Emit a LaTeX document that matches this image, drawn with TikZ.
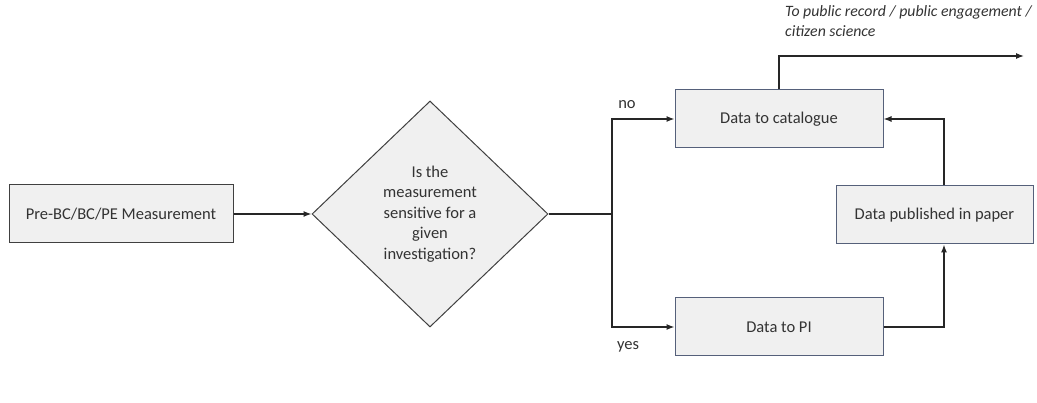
\documentclass[tikz,border=0pt]{standalone}
\usepackage{fontspec}
\setmainfont{Carlito}
\usetikzlibrary{shapes.geometric,arrows.meta}
\definecolor{boxfill}{HTML}{F0F0F0}
\definecolor{boxedge}{HTML}{55607A}
\definecolor{txt}{HTML}{333333}
\begin{document}
\begin{tikzpicture}[x=1pt,y=-1pt,text=txt,
	box/.style={draw=boxedge,line width=1pt,fill=boxfill,minimum width=208pt,minimum height=58pt,inner sep=0pt},
	flow/.style={-{Latex[length=8pt,width=6pt]},line width=1.3pt,draw=black!85}]
	\fontsize{16.5}{20.5}\selectfont
	\useasboundingbox (0,0) rectangle (1037,403);
	\node[box,draw=black!75,minimum width=224pt] (meas) at (121,214) {Pre-BC/BC/PE Measurement};
	\node[diamond,draw=black!75,line width=1pt,fill=boxfill,minimum width=236pt,minimum height=226pt,inner sep=0pt,align=center] (sens) at (430,214) {Is the\\measurement\\sensitive for a\\given\\investigation?};
	\node[box] (cat) at (779,119) {Data to catalogue};
	\node[box] (pi) at (779,327) {Data to PI};
	\node[box,minimum width=197pt] (pub) at (934.5,215) {Data published in paper};
	\node (no) at (627,105) {no};
	\node (yes) at (628,347) {yes};
	\node[font=\fontsize{15.8}{20}\itshape,anchor=north west,align=left,inner sep=0pt] (outlabel) at (785,5) {To public record / public engagement /\\citizen science};
	\coordinate (split) at (612,214);
	\coordinate (out) at (1024,56);
	\draw[flow] (meas) -- (sens);
	\draw[line width=1.3pt,draw=black!85] (sens.east) -- (split);
	\draw[flow] (split) |- (cat.west);
	\draw[flow] (split) |- (pi.west);
	\draw[flow] (pi.east) -| ([xshift=9.5pt]pub.south);
	\draw[flow] ([xshift=9.5pt]pub.north) |- (cat.east);
	\draw[flow] (cat.north) |- (out);
\end{tikzpicture}
\end{document}
